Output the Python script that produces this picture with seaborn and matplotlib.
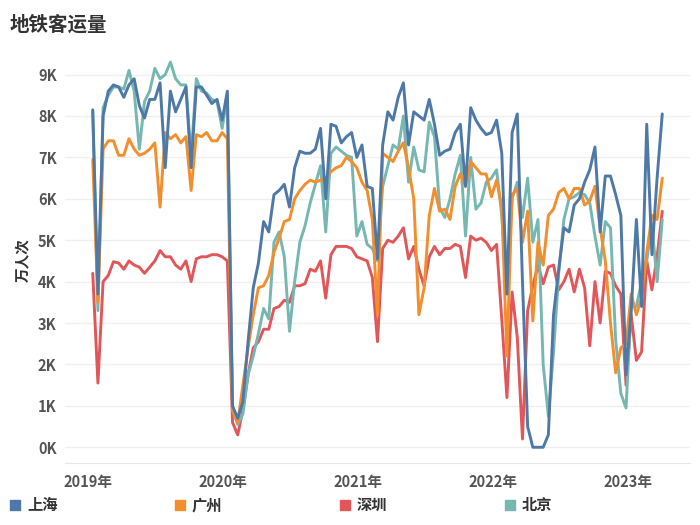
import matplotlib
matplotlib.use("Agg")
import matplotlib.pyplot as plt
from matplotlib.lines import Line2D
import numpy as np
import pandas as pd
import seaborn as sns

# ---- data (千·万人次 per two-week sample) ----
dates = pd.date_range("2019-01-14", periods=111, freq="14D")

shanghai = [8.15, 3.7, 8.0, 8.6, 8.75, 8.7, 8.45, 8.75, 8.9, 8.25,
            7.95, 8.4, 8.4, 8.8, 6.75, 8.6, 8.1, 8.4, 8.7, 6.75,
            8.7, 8.7, 8.5, 8.3, 8.4, 7.9, 8.6, 1.0, 0.7, 1.1,
            2.55, 3.85, 4.45, 5.45, 5.2, 6.1, 6.2, 6.35, 5.8, 6.75,
            7.15, 7.1, 7.1, 7.2, 7.7, 6.0, 7.8, 7.75, 7.35, 7.5,
            7.6, 7.0, 7.3, 6.3, 6.25, 4.55, 7.3, 8.1, 7.9, 8.45,
            8.8, 7.3, 8.1, 8.0, 7.9, 8.4, 7.8, 7.05, 7.15, 7.2,
            7.6, 7.8, 6.3, 8.2, 7.9, 7.7, 7.55, 7.6, 7.9, 7.1,
            3.7, 7.6, 8.05, 4.0, 0.5, 0.0, 0.0, 0.0, 0.3, 3.2,
            4.3, 5.3, 5.2, 5.85, 6.0, 6.4, 6.7, 7.25, 5.2, 6.55,
            6.55, 6.1, 5.6, 1.75, 3.3, 5.5, 3.4, 7.8, 4.65, 6.5,
            8.05]

guangzhou = [6.95, 3.5, 7.2, 7.4, 7.4, 7.05, 7.05, 7.45, 7.2, 7.05,
             7.1, 7.2, 7.35, 5.8, 7.6, 7.45, 7.55, 7.35, 7.5, 6.2,
             7.55, 7.5, 7.6, 7.4, 7.4, 7.6, 7.45, 0.9, 0.6, 1.5,
             2.4, 3.2, 3.85, 3.9, 4.15, 4.7, 5.05, 5.45, 5.5, 6.0,
             6.2, 6.35, 6.45, 6.4, 6.45, 6.5, 6.65, 6.75, 6.8, 7.0,
             6.9, 6.75, 6.4, 6.2, 5.5, 3.2, 7.1, 7.0, 6.9, 7.15,
             7.35, 6.75, 6.0, 3.2, 3.85, 5.6, 6.25, 5.7, 5.75, 5.5,
             6.3, 6.6, 6.3, 6.9, 6.75, 6.6, 6.6, 6.05, 6.45, 5.8,
             2.2, 6.1, 6.25, 4.95, 5.7, 3.05, 4.95, 4.4, 5.6, 5.75,
             6.15, 6.25, 6.0, 6.25, 6.25, 5.85, 5.95, 6.3, 5.3, 4.5,
             3.0, 1.8, 2.4, 2.5, 3.7, 3.2, 3.6, 4.7, 5.6, 5.5,
             6.5]

shenzhen = [4.2, 1.55, 4.0, 4.15, 4.48, 4.45, 4.3, 4.5, 4.4, 4.35,
            4.2, 4.35, 4.5, 4.75, 4.6, 4.6, 4.4, 4.3, 4.5, 4.0,
            4.55, 4.6, 4.6, 4.65, 4.65, 4.6, 4.5, 0.6, 0.3, 0.9,
            1.75, 2.4, 2.55, 2.85, 2.85, 3.35, 3.4, 3.55, 3.5, 3.9,
            3.9, 3.95, 4.3, 4.25, 4.5, 3.6, 4.65, 4.85, 4.85, 4.85,
            4.8, 4.6, 4.55, 4.5, 4.1, 2.55, 4.8, 5.0, 4.95, 5.1,
            5.3, 4.55, 4.85, 4.3, 3.9, 4.6, 4.85, 4.65, 4.8, 4.8,
            4.9, 4.85, 4.1, 5.1, 5.0, 5.05, 4.95, 4.75, 4.9, 3.1,
            1.2, 3.75, 2.65, 0.2, 3.3, 3.9, 4.4, 3.95, 4.35, 4.4,
            3.8, 4.0, 4.3, 3.75, 4.3, 3.85, 2.45, 4.0, 3.0, 4.25,
            4.2, 3.9, 3.7, 1.5, 3.2, 2.1, 2.3, 4.5, 3.8, 4.6,
            5.7]

beijing = [8.1, 3.3, 8.2, 8.5, 8.7, 8.7, 8.65, 9.1, 8.6, 7.2,
           8.35, 8.6, 9.15, 8.9, 9.0, 9.3, 8.9, 8.75, 8.75, 7.0,
           8.9, 8.6, 8.55, 8.4, 8.35, 7.7, 8.5, 0.9, 0.55, 0.8,
           1.75, 2.2, 2.75, 3.35, 3.1, 4.95, 5.2, 4.6, 2.8, 4.0,
           4.95, 5.35, 5.9, 6.35, 6.8, 5.2, 7.1, 7.25, 7.15, 7.05,
           7.0, 5.1, 5.45, 4.9, 4.8, 4.5, 6.3, 6.8, 7.3, 7.2,
           8.0, 6.4, 7.25, 6.7, 6.65, 7.85, 7.5, 5.8, 5.55, 6.0,
           6.6, 7.05, 5.1, 7.0, 5.75, 5.9, 6.4, 6.5, 6.7, 5.6,
           3.7, 6.0, 6.4, 5.55, 6.5, 4.95, 5.5, 2.0, 0.75, 2.3,
           4.2, 5.5, 6.0, 6.05, 6.15, 6.1, 5.9, 5.1, 4.4, 5.45,
           5.3, 2.6, 1.3, 0.95, 3.4, 3.4, 4.0, 4.5, 5.4, 4.0,
           5.5]

cities = ["上海", "广州", "深圳", "北京"]
colors = {"上海": "#4e79a7", "广州": "#f28e2b", "深圳": "#e15759", "北京": "#76b7b2"}
year_ticks = ["2019-01-01", "2020-01-01", "2021-01-01", "2022-01-01", "2023-01-01"]
year_labels = ["2019年", "2020年", "2021年", "2022年", "2023年"]
y_ticks = [0, 1, 2, 3, 4, 5, 6, 7, 8, 9]

series = {"上海": shanghai, "广州": guangzhou, "深圳": shenzhen, "北京": beijing}
df = pd.concat([pd.DataFrame({"日期": dates, "客运量": v, "城市": k}) for k, v in series.items()],
               ignore_index=True)

sns.set_style("white")
plt.rcParams["font.family"] = ["Noto Sans CJK SC", "DejaVu Sans"]

fig = plt.figure(figsize=(7, 5.25), dpi=100)
ax = fig.add_axes([65 / 700, 1 - 463 / 525, 625 / 700, (463 - 58) / 525])

draw_order = ["深圳", "北京", "广州", "上海"]
sns.lineplot(data=df, x="日期", y="客运量", hue="城市", hue_order=draw_order,
             palette=colors, linewidth=2.1, ax=ax, legend=False)

ax.set_xlim(pd.Timestamp("2018-10-31"), pd.Timestamp("2023-06-17"))
ax.set_ylim(-0.38, 9.4)
ax.set_yticks(y_ticks)
ax.set_yticklabels([f"{t}K" for t in y_ticks])
ax.set_xticks([pd.Timestamp(t) for t in year_ticks])
ax.set_xticklabels(year_labels)
ax.tick_params(axis="both", length=0, labelsize=10.5, colors="#555555")
for lab in ax.get_xticklabels() + ax.get_yticklabels():
    lab.set_fontweight("bold")
ax.tick_params(axis="x", pad=8)
ax.tick_params(axis="y", pad=6)
ax.grid(axis="y", color="#efefef", linewidth=0.9)
ax.set_axisbelow(True)
for s in ["top", "right", "left"]:
    ax.spines[s].set_visible(False)
ax.spines["bottom"].set_color("#e6e6e6")
ax.set_xlabel("")
ax.set_ylabel("万人次", fontsize=10.5, fontweight="bold", color="#333333", labelpad=6)

fig.text(10 / 700, 1 - 25 / 525, "地铁客运量", fontsize=14, fontweight="bold",
         color="#333333", va="center", ha="left")

handles = [Line2D([], [], marker="s", linestyle="none", markersize=7,
                  markerfacecolor=colors[c], markeredgecolor=colors[c]) for c in cities]
leg = fig.legend(handles, cities, loc="center left", ncol=4,
                 bbox_to_anchor=(-5 / 700, 20 / 525),
                 frameon=False, handlelength=0.8, handletextpad=0.4,
                 columnspacing=7.6, prop={"size": 11, "weight": "bold"})
for t in leg.get_texts():
    t.set_color("#333333")

fig.savefig("out.png", dpi=100)
